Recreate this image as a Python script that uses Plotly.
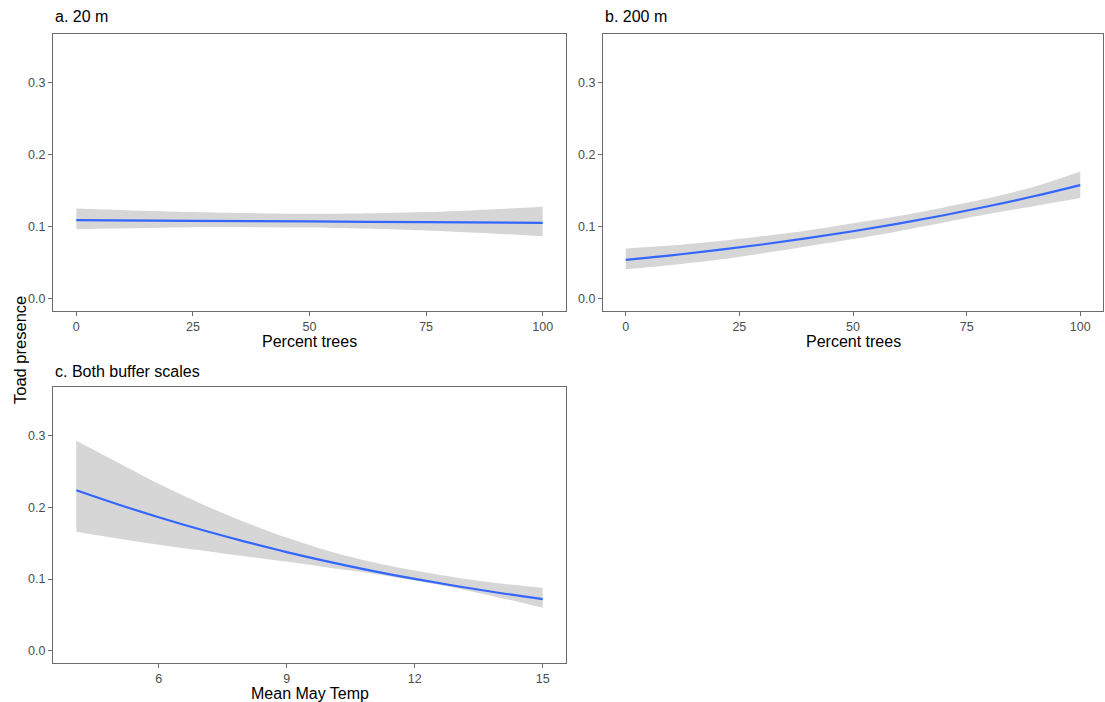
import plotly.graph_objects as go

# ---- data ----
a_x = [0, 25, 50, 75, 100]
a_fit = [0.1093, 0.1084, 0.1075, 0.1065, 0.1056]
a_upper = [0.1256, 0.1205, 0.1180, 0.1205, 0.1279]
a_lower = [0.0967, 0.0995, 0.0990, 0.0950, 0.0870]

b_x = [0, 10, 20, 30, 40, 50, 60, 70, 80, 90, 100]
b_fit = [0.054, 0.0604, 0.0675, 0.0754, 0.0842, 0.0938, 0.1044, 0.1161, 0.1289, 0.1428, 0.158]
b_upper = [0.070, 0.074, 0.080, 0.087, 0.095, 0.105, 0.115, 0.127, 0.140, 0.156, 0.177]
b_lower = [0.041, 0.047, 0.054, 0.063, 0.073, 0.083, 0.094, 0.106, 0.118, 0.129, 0.140]

c_x = [4.07, 5, 6, 7, 8, 9, 10, 11, 12, 13, 14, 15]
c_fit = [0.224, 0.2052, 0.1863, 0.1688, 0.1527, 0.1377, 0.1241, 0.1116, 0.1003, 0.0900, 0.0806, 0.0722]
c_upper = [0.293, 0.264, 0.233, 0.205, 0.180, 0.158, 0.139, 0.124, 0.112, 0.102, 0.094, 0.088]
c_lower = [0.166, 0.157, 0.148, 0.140, 0.132, 0.1245, 0.116, 0.108, 0.098, 0.087, 0.074, 0.060]

panel_titles = ["a. 20 m", "b. 200 m", "c. Both buffer scales"]
x_titles = ["Percent trees", "Percent trees", "Mean May Temp"]
y_title = "Toad presence"
pct_ticks = [0, 25, 50, 75, 100]
temp_ticks = [6, 9, 12, 15]
y_ticks = [0.0, 0.1, 0.2, 0.3]

W, H = 1105, 702
LINE = "#3366FF"
RIBBON = "rgba(153,153,153,0.4)"
FONT = "Liberation Sans, Arial, sans-serif"

fig = go.Figure()

panels = [
    (a_x, a_fit, a_upper, a_lower, "x", "y"),
    (b_x, b_fit, b_upper, b_lower, "x2", "y2"),
    (c_x, c_fit, c_upper, c_lower, "x3", "y3"),
]
for xs, fit, up, lo, xa, ya in panels:
    fig.add_trace(go.Scatter(x=xs, y=lo, mode="lines", line=dict(width=0, shape="spline", smoothing=0.8),
                             xaxis=xa, yaxis=ya, showlegend=False, hoverinfo="skip"))
    fig.add_trace(go.Scatter(x=xs, y=up, mode="lines", line=dict(width=0, shape="spline", smoothing=0.8),
                             fill="tonexty", fillcolor=RIBBON,
                             xaxis=xa, yaxis=ya, showlegend=False, hoverinfo="skip"))
    fig.add_trace(go.Scatter(x=xs, y=fit, mode="lines", line=dict(color=LINE, width=2.2, shape="spline"),
                             xaxis=xa, yaxis=ya, showlegend=False))

def px_x(p):
    return p / W

def px_y(p):
    return 1 - p / H

dom = {
    "a": ([px_x(53), px_x(566)], [px_y(311), px_y(34)]),
    "b": ([px_x(603), px_x(1103)], [px_y(311), px_y(34)]),
    "c": ([px_x(53), px_x(566)], [px_y(663), px_y(387)]),
}

axis_common = dict(
    showgrid=False, zeroline=False, showline=True, mirror=True,
    linecolor="#6b6b6b", linewidth=1,
    ticks="outside", ticklen=4, tickcolor="#6b6b6b",
    tickfont=dict(family=FONT, size=12.5, color="#4d4d4d"),
)

def pct_range(ticks):
    lo, hi = min(ticks), max(ticks)
    e = (hi - lo) * 0.05
    return [lo - e, hi + e]

c_lo, c_hi = min(c_x), max(c_x)
c_e = (c_hi - c_lo) * 0.05
y_rng = [-0.017, 0.368]

fig.update_layout(
    width=W, height=H,
    margin=dict(l=0, r=0, t=0, b=0),
    plot_bgcolor="white", paper_bgcolor="white",
    xaxis=dict(domain=dom["a"][0], anchor="y", range=pct_range(pct_ticks), tickvals=pct_ticks, **axis_common),
    yaxis=dict(domain=dom["a"][1], anchor="x", range=y_rng, tickvals=y_ticks, tickformat=".1f", **axis_common),
    xaxis2=dict(domain=dom["b"][0], anchor="y2", range=pct_range(pct_ticks), tickvals=pct_ticks, **axis_common),
    yaxis2=dict(domain=dom["b"][1], anchor="x2", range=y_rng, tickvals=y_ticks, tickformat=".1f", **axis_common),
    xaxis3=dict(domain=dom["c"][0], anchor="y3", range=[c_lo - c_e, c_hi + c_e], tickvals=temp_ticks, **axis_common),
    yaxis3=dict(domain=dom["c"][1], anchor="x3", range=y_rng, tickvals=y_ticks, tickformat=".1f", **axis_common),
)

ann = []
# panel titles
for txt, (xp, yp) in zip(panel_titles, [(53, 17), (603, 17), (53, 371)]):
    ann.append(dict(text=txt, x=px_x(xp), y=px_y(yp), xref="paper", yref="paper",
                    xanchor="left", yanchor="middle", showarrow=False,
                    font=dict(family=FONT, size=16, color="black")))
# x titles
for txt, (xp, yp) in zip(x_titles, [(309.5, 341), (853, 341), (309.5, 693)]):
    ann.append(dict(text=txt, x=px_x(xp), y=px_y(yp), xref="paper", yref="paper",
                    xanchor="center", yanchor="middle", showarrow=False,
                    font=dict(family=FONT, size=16, color="black")))
# y title
ann.append(dict(text=y_title, x=px_x(20), y=px_y(350), xref="paper", yref="paper",
                xanchor="center", yanchor="middle", showarrow=False, textangle=-90,
                font=dict(family=FONT, size=16.5, color="black")))
fig.update_layout(annotations=ann)

fig.write_html("out.html", config={"displayModeBar": False},
               post_script="document.body.style.margin='0';document.body.style.padding='0';")
